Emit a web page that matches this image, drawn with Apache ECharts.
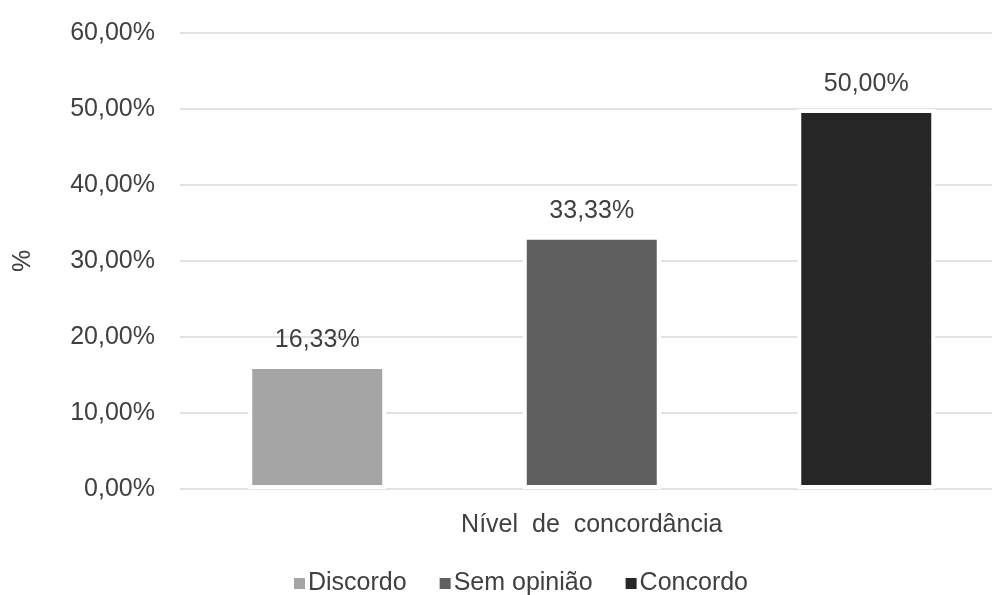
<!DOCTYPE html>
<html>
<head>
<meta charset="utf-8">
<script src="https://cdn.jsdelivr.net/npm/echarts@6/dist/echarts.min.js"></script>
<style>
  html, body { margin: 0; padding: 0; background: #fff; }
  #chart { width: 992px; height: 595px; }
</style>
</head>
<body>
<div id="chart"></div>
<script>
// Agreement level survey: share of answers per level
const categories = ['Discordo', 'Sem opinião', 'Concordo'];
const values = [16.33, 33.33, 50.00];
const colors = ['#a5a5a5', '#5f5f5f', '#262626'];
const yTicks = { min: 0, max: 60, interval: 10 };
const xTitle = 'Nível  de  concordância';
const yTitle = '%';

const FONT = '"Liberation Sans", Arial, sans-serif';
const TEXT = '#404040';
const FS = 25;

const fmt = v => v.toFixed(2).replace('.', ',') + '%';

// One series per level so the legend lists each one; stacking keeps each bar centred in its slot
const series = categories.map((name, i) => ({
  name: name,
  type: 'bar',
  stack: 'all',
  barWidth: 138,
  data: categories.map((_, j) => (j === i ? values[i] : null)),
  itemStyle: { color: colors[i], borderColor: '#ffffff', borderWidth: 4 },
  label: {
    show: true,
    position: 'top',
    distance: 12,
    formatter: p => fmt(p.value),
    color: TEXT,
    fontFamily: FONT,
    fontSize: FS
  }
}));

const chart = echarts.init(document.getElementById('chart'), null, { renderer: 'canvas' });
chart.setOption({
  animation: false,
  backgroundColor: '#ffffff',
  grid: { left: 180, top: 33, width: 823.5, height: 456, containLabel: false, outerBoundsMode: 'none' },
  legend: {
    top: 566,
    left: 287,
    icon: 'rect',
    itemWidth: 13,
    itemHeight: 13,
    itemGap: 31,
    textStyle: { color: TEXT, fontFamily: FONT, fontSize: FS, padding: [0, 0, 0, -3] },
    data: categories
  },
  xAxis: {
    type: 'category',
    data: categories,
    name: xTitle,
    nameLocation: 'middle',
    nameGap: 24,
    nameTextStyle: { color: TEXT, fontFamily: FONT, fontSize: FS },
    axisLine: { show: false },
    axisTick: { show: false },
    axisLabel: { show: false }
  },
  yAxis: {
    type: 'value',
    min: yTicks.min,
    max: yTicks.max,
    interval: yTicks.interval,
    name: yTitle,
    nameLocation: 'middle',
    nameRotate: 90,
    nameGap: 144,
    nameTextStyle: { color: TEXT, fontFamily: FONT, fontSize: FS },
    axisLine: { show: false },
    axisTick: { show: false },
    axisLabel: {
      margin: 25,
      color: TEXT,
      fontFamily: FONT,
      fontSize: FS,
      formatter: v => fmt(v)
    },
    splitLine: { lineStyle: { color: '#d9d9d9', width: 1.5 } }
  },
  series: series
});
</script>
</body>
</html>
